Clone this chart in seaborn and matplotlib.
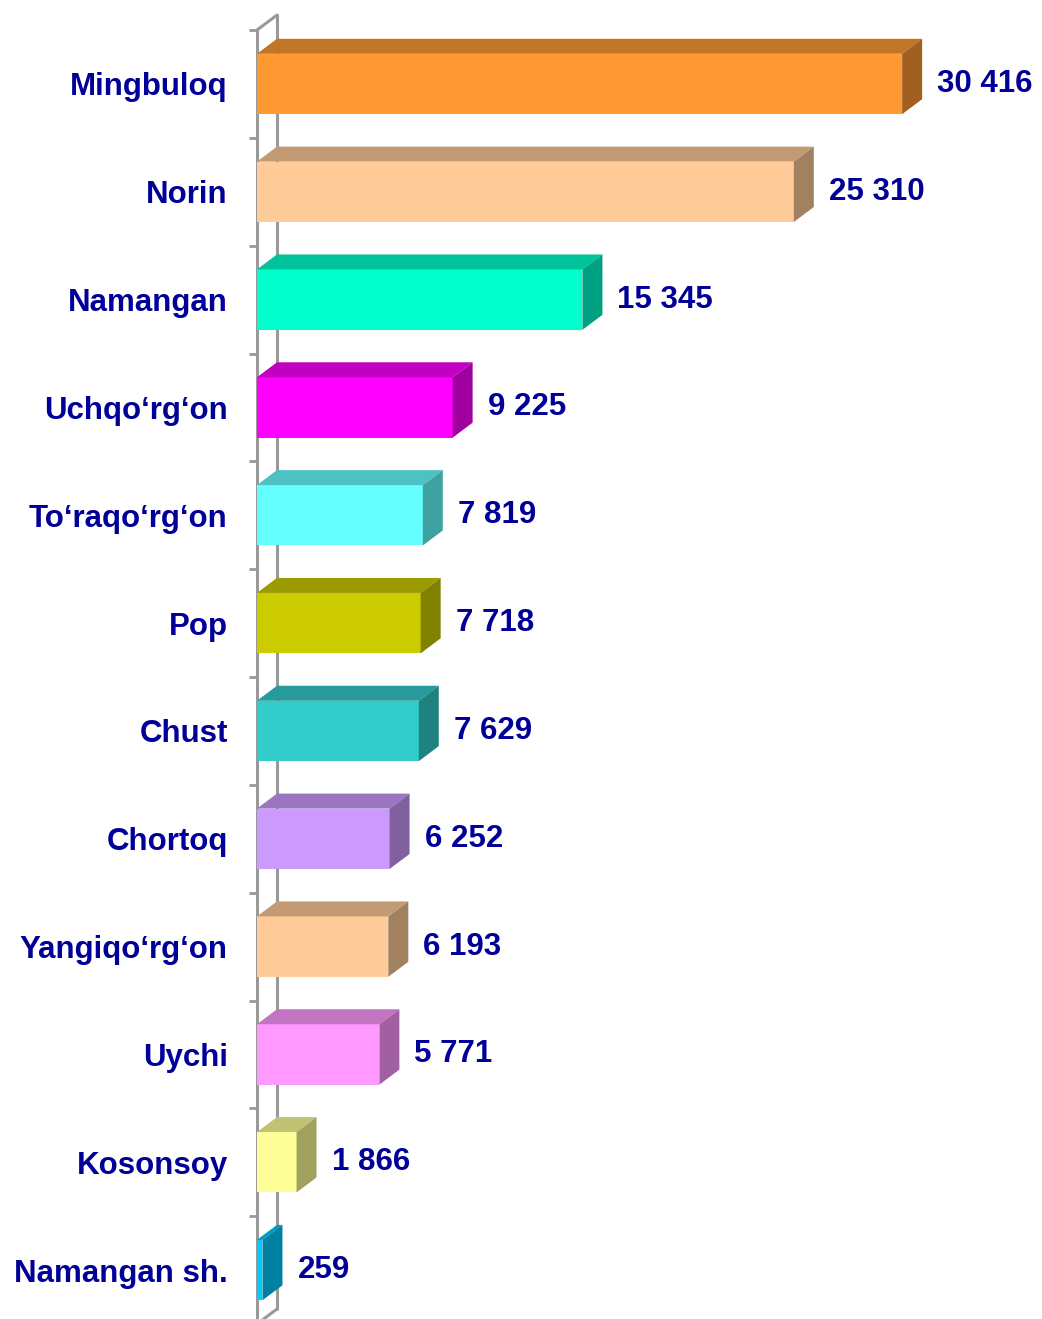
import matplotlib
matplotlib.use("Agg")
import matplotlib.pyplot as plt
from matplotlib.patches import Polygon
from matplotlib.colors import to_rgb
import seaborn as sns
import pandas as pd

districts = ["Mingbuloq", "Norin", "Namangan", "Uchqo\u2018rg\u2018on", "To\u2018raqo\u2018rg\u2018on",
             "Pop", "Chust", "Chortoq", "Yangiqo\u2018rg\u2018on", "Uychi", "Kosonsoy", "Namangan sh."]
values = [30416, 25310, 15345, 9225, 7819, 7718, 7629, 6252, 6193, 5771, 1866, 259]
colors = ["#FF9933", "#FFCC99", "#00FFCC", "#FF00FF", "#66FFFF", "#CCCC00",
          "#33CCCC", "#CC99FF", "#FFCC99", "#FF99FF", "#FFFF99", "#00CCFF"]

df = pd.DataFrame({"district": districts, "value": values})

sns.set_style("white")
plt.rcParams["font.family"] = ["Liberation Sans", "DejaVu Sans"]
text_color = "#000099"
grey = "#999999"

W, H, DPI = 10.42, 13.19, 100
fig = plt.figure(figsize=(W, H), dpi=DPI)
ax_left, ax_bottom, ax_w, ax_h = 0.2466, -0.0038, 0.6514, 0.981
ax = fig.add_axes([ax_left, ax_bottom, ax_w, ax_h])

sns.barplot(data=df, x="value", y="district", hue="district", palette=colors,
            orient="h", width=0.56, legend=False, linewidth=0, saturation=1, ax=ax, zorder=3)

xmax = 32000
ax.set_xlim(0, xmax)
ax.set_ylim(len(districts) - 0.5, -0.5)

# 3D depth in data units (20 px right, 15 px up)
px_per_x = W * DPI * ax_w / xmax
px_per_y = H * DPI * ax_h / len(districts)
dx = 20 / px_per_x
dy = 15 / px_per_y


def shade(c, f):
    r, g, b = to_rgb(c)
    return (r * f, g * f, b * f)


for patch, col in zip(ax.patches, colors):
    x0 = patch.get_x()
    x1 = x0 + patch.get_width()
    yt = patch.get_y()
    yb = yt + patch.get_height()
    top = Polygon([(x0, yt), (x1, yt), (x1 + dx, yt - dy), (x0 + dx, yt - dy)],
                  closed=True, facecolor=shade(col, 0.76), edgecolor="none", zorder=3)
    side = Polygon([(x1, yt), (x1, yb), (x1 + dx, yb - dy), (x1 + dx, yt - dy)],
                   closed=True, facecolor=shade(col, 0.63), edgecolor="none", zorder=3)
    ax.add_patch(top)
    ax.add_patch(side)

# value labels
for i, v in enumerate(values):
    ax.text(v + dx + 15 / px_per_x, i, f"{v:,}".replace(",", " "), va="center", ha="left",
            fontsize=22.5, fontweight="bold", color=text_color, clip_on=False)

# back wall and floor edges
y_top, y_bot = -0.5, len(districts) - 0.5
ax.plot([dx, dx], [y_top - dy, y_bot - dy], color=grey, lw=2.2, zorder=1, clip_on=False)
ax.plot([0, dx], [y_top, y_top - dy], color=grey, lw=2.2, zorder=1, clip_on=False)
ax.plot([0, dx], [y_bot, y_bot - dy], color=grey, lw=2.2, zorder=1, clip_on=False)

sns.despine(ax=ax, top=True, right=True, bottom=True, left=False)
ax.spines["left"].set_color(grey)
ax.spines["left"].set_linewidth(2.2)
ax.spines["left"].set_zorder(2)

ax.set_xticks([])
ax.set_yticks(range(len(districts)))
ax.set_yticklabels(districts)
ax.set_yticks([i - 0.5 for i in range(len(districts) + 1)], minor=True)
ax.tick_params(axis="y", which="major", left=True, length=0, pad=21, labelsize=22.5,
               labelcolor=text_color)
ax.tick_params(axis="y", which="minor", left=True, length=6, width=2, color=grey,
               direction="out")
for lab in ax.get_yticklabels():
    lab.set_fontweight("bold")
ax.set_xlabel("")
ax.set_ylabel("")
ax.set_facecolor("none")

fig.savefig("out.png", dpi=DPI)
